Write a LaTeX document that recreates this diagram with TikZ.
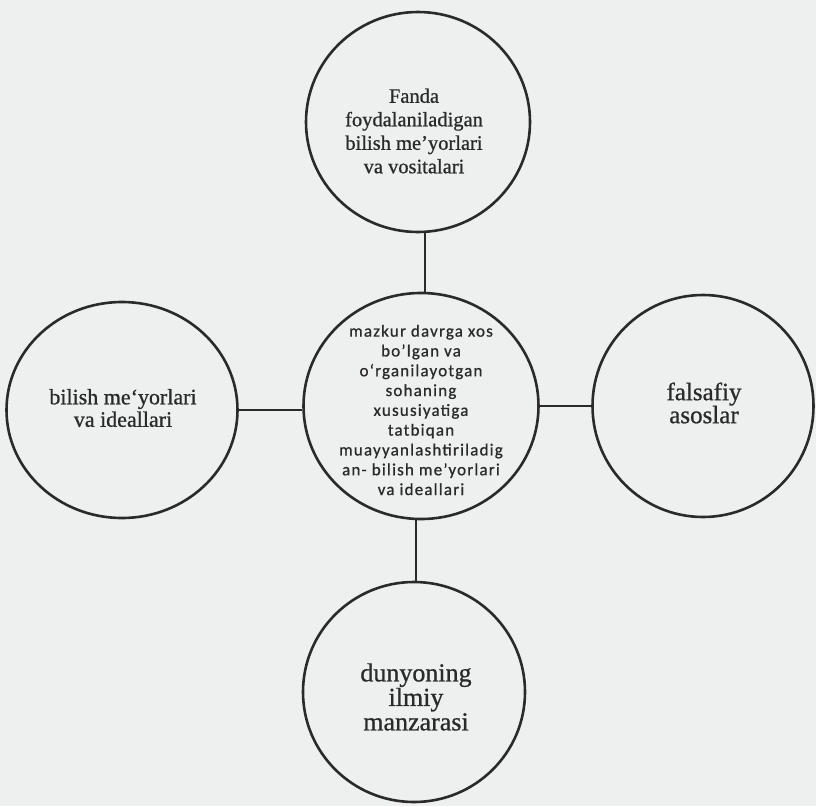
\documentclass[tikz,border=0pt]{standalone}
\usepackage{fontspec}
\setmainfont[FakeBold=0.8]{Liberation Serif}
\newfontfamily\outerfont[FakeBold=0.8]{Liberation Serif}
\newfontfamily\centerfont[LetterSpace=7,FakeBold=0.8]{Carlito}
\usetikzlibrary{shapes.geometric}
\definecolor{bg}{RGB}{238,240,240}
\definecolor{ink}{RGB}{42,42,42}
\begin{document}
\begin{tikzpicture}[x=1pt,y=-1pt,
  ring/.style={ellipse, draw=ink, line width=2.6pt, inner sep=0pt},
  link/.style={draw=ink, line width=2.8pt},
  outertxt/.style={text=ink, align=center, inner sep=0pt},
  innertxt/.style={text=ink, align=center, inner sep=0pt, font=\centerfont\fontsize{17}{19.8}\selectfont}]
\fill[bg] (0,0) rectangle (816,806);
\useasboundingbox (0,0) rectangle (816,806);
% circles
\node[ring, minimum width=224pt, minimum height=220pt] (top) at (418,122) {};
\node[ring, minimum width=235pt, minimum height=226pt] (mid) at (421,406) {};
\node[ring, minimum width=231pt, minimum height=216pt] (left) at (122,410) {};
\node[ring, minimum width=221pt, minimum height=222pt] (right) at (703,406) {};
\node[ring, minimum width=222pt, minimum height=220pt] (bot) at (414,692) {};
% connectors
\draw[link] ([xshift=7pt]top.south) -- ([xshift=7pt]top.south |- mid.north);
\draw[link] (left.east) -- (left.east -| mid.west);
\draw[link] (mid.east) -- (mid.east -| right.west);
\draw[link] ([xshift=2pt]bot.north) -- ([xshift=2pt]bot.north |- mid.south);
% texts
\node[outertxt, font=\outerfont\fontsize{20.5}{23.5}\selectfont] (toptext) at (414,131) {Fanda\\foydalaniladigan\\bilish me’yorlari\\va vositalari};
\node[outertxt, font=\outerfont\fontsize{22}{22.5}\selectfont] (lefttext) at (123,408) {bilish me‘yorlari\\va ideallari};
\node[outertxt, font=\outerfont\fontsize{25}{23}\selectfont] (righttext) at (704,403) {falsafiy\\asoslar};
\node[outertxt, font=\outerfont\fontsize{26}{24.5}\selectfont] (bottext) at (416,697) {dunyoning\\ilmiy\\manzarasi};
\node[innertxt] (midtext) at (421,410) {mazkur davrga xos\\bo’lgan va\\o‘rganilayotgan\\sohaning\\xususiyatiga\\tatbiqan\\muayyanlashtiriladig\\an- bilish me’yorlari\\va ideallari};
\end{tikzpicture}
\end{document}
